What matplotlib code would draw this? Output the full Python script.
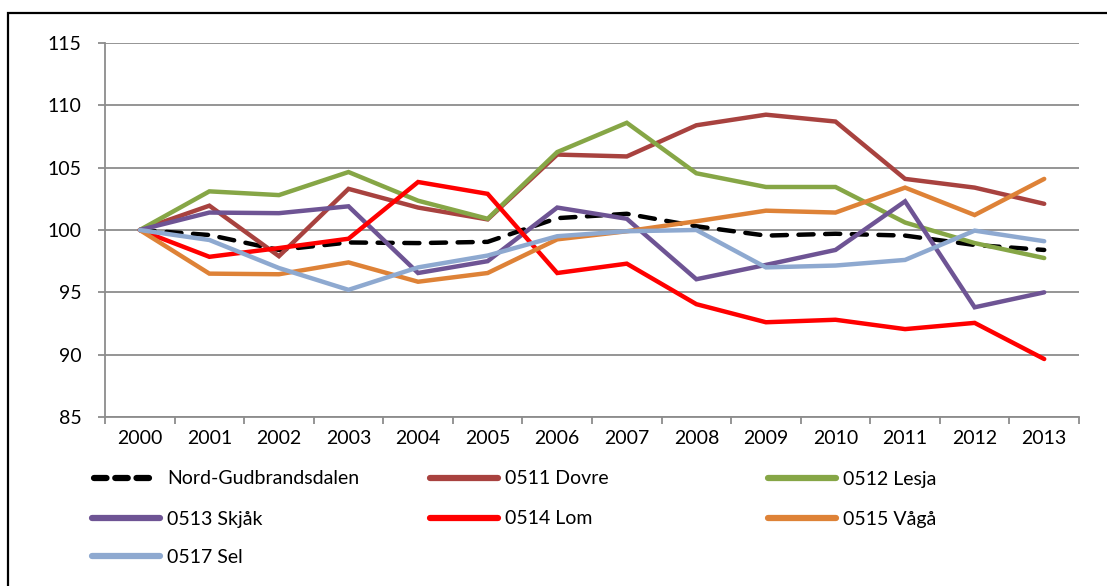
import matplotlib
matplotlib.use("Agg")
import matplotlib.pyplot as plt
from matplotlib.lines import Line2D
from matplotlib.patches import Rectangle
import numpy as np

plt.rcParams['font.family'] = ['Lato', 'DejaVu Sans']

years = ['2000', '2001', '2002', '2003', '2004', '2005', '2006',
         '2007', '2008', '2009', '2010', '2011', '2012', '2013']

nord_gudbrandsdalen = [100, 99.6, 98.4, 99.0, 98.95, 99.05, 100.95, 101.3, 100.3, 99.55, 99.7, 99.55, 98.8, 98.4]
dovre = [100, 101.95, 97.9, 103.3, 101.8, 100.85, 106.05, 105.9, 108.4, 109.25, 108.7, 104.1, 103.4, 102.1]
lesja = [100, 103.1, 102.8, 104.65, 102.35, 100.9, 106.25, 108.6, 104.55, 103.45, 103.45, 100.6, 98.95, 97.75]
skjak = [100, 101.4, 101.35, 101.9, 96.55, 97.5, 101.8, 100.9, 96.05, 97.2, 98.4, 102.3, 93.8, 95.0]
lom = [100, 97.85, 98.55, 99.3, 103.85, 102.9, 96.55, 97.3, 94.05, 92.6, 92.8, 92.05, 92.55, 89.65]
vaga = [100, 96.5, 96.45, 97.4, 95.85, 96.55, 99.25, 99.9, 100.7, 101.55, 101.4, 103.4, 101.2, 104.1]
sel = [100, 99.2, 96.95, 95.2, 97.0, 97.95, 99.5, 99.9, 100.0, 97.0, 97.15, 97.6, 99.95, 99.1]

series_names = ['Nord-Gudbrandsdalen', '0511 Dovre', '0512 Lesja',
                '0513 Skjåk', '0514 Lom', '0515 Vågå', '0517 Sel']
series_values = [nord_gudbrandsdalen, dovre, lesja, skjak, lom, vaga, sel]
colors = ['#000000', '#A8423F', '#86A646', '#6E5494', '#FF0000', '#DE8237', '#8EA9D0']

W, H = 1107, 586
fig = plt.figure(figsize=(W / 100, H / 100), dpi=100)

# outer frame (extends beyond right/bottom edge)
fig.add_artist(Rectangle((8 / W, -0.1), 2.0, (H - 13) / H + 0.1,
                         transform=fig.transFigure, fill=False,
                         edgecolor='black', linewidth=1.6))

ax = fig.add_axes([105 / W, (H - 417) / H, (1079 - 105) / W, (417 - 43) / H])
x = np.arange(len(years))

grid_color = '#8C8C8C'
LW = 3.2
for name, vals, c in zip(series_names, series_values, colors):
    if name == 'Nord-Gudbrandsdalen':
        ax.plot(x, vals, color=c, linewidth=LW, dashes=(3.4, 2.6),
                dash_capstyle='round', zorder=3)
    else:
        ax.plot(x, vals, color=c, linewidth=LW, solid_capstyle='round',
                solid_joinstyle='miter', zorder=3)

ax.set_xlim(-0.5, len(years) - 0.5)
ax.set_ylim(85, 115)
ax.set_yticks(np.arange(85, 116, 5))
ax.yaxis.grid(True, color=grid_color, linewidth=1.3)
ax.set_axisbelow(True)
for s in ['top', 'right']:
    ax.spines[s].set_visible(False)
for s in ['left', 'bottom']:
    ax.spines[s].set_color(grid_color)
    ax.spines[s].set_linewidth(1.3)

ax.set_xticks(x)
ax.set_xticklabels(years)
ax.set_xticks(np.arange(-0.5, len(years), 1.0), minor=True)
ax.tick_params(axis='x', which='major', length=0, pad=9, labelsize=14)
ax.tick_params(axis='x', which='minor', length=5, width=1.3, color=grid_color)
ax.tick_params(axis='y', length=5, width=1.3, color=grid_color, labelsize=14, pad=12)

# legend (3 equal-width columns)
rows_y = [477.5, 517.5, 556.0]
cols_x = [90, 428, 766]
handle_len = 72
for i, (name, c) in enumerate(zip(series_names, colors)):
    r, col = divmod(i, 3)
    x0 = cols_x[col]
    yy = 1 - rows_y[r] / H
    if name == 'Nord-Gudbrandsdalen':
        ln = Line2D([(x0 + 4) / W, (x0 + handle_len - 8) / W], [yy, yy],
                    transform=fig.transFigure, color=c, linewidth=4.5,
                    dashes=(2.0, 1.4), dash_capstyle='round')
    else:
        ln = Line2D([(x0 + 2) / W, (x0 + handle_len - 2) / W], [yy, yy],
                    transform=fig.transFigure, color=c, linewidth=4.5,
                    solid_capstyle='round')
    fig.add_artist(ln)
    fig.text((x0 + handle_len + 5) / W, yy, name, fontsize=14,
             ha='left', va='center_baseline')

fig.savefig('out.png', dpi=100)
